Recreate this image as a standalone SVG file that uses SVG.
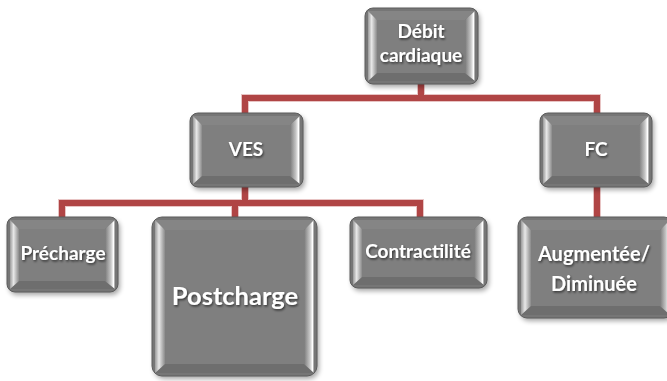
<svg xmlns="http://www.w3.org/2000/svg" width="667" height="381" viewBox="0 0 667 381">
<defs>
<style>
.face{fill:#7f7f7f;}
.outer{fill:#767676;stroke:#5c5c5c;stroke-width:1;}
.bl{fill:url(#gl);}
.br{fill:url(#gr);}
.bt{fill:#858585;}
.bb{fill:#6e6e6e;}
.t{font-family:Lato,"Open Sans","Liberation Sans",sans-serif;font-weight:bold;fill:#ffffff;text-anchor:middle;filter:url(#ts);}
.wire{fill:none;stroke:#b04545;stroke-width:6;stroke-linejoin:miter;}
.wire2{fill:none;stroke:#e8c4c4;stroke-width:8;stroke-linejoin:miter;}
.sh{fill:#000;opacity:0.35;filter:url(#bs);}
</style>
<linearGradient id="gl" x1="0" y1="0" x2="1" y2="0">
<stop offset="0" stop-color="#9a9a9a"/>
<stop offset="0.4" stop-color="#e8e8e8"/>
<stop offset="1" stop-color="#8a8a8a"/>
</linearGradient>
<linearGradient id="gr" x1="0" y1="0" x2="1" y2="0">
<stop offset="0" stop-color="#7a7a7a"/>
<stop offset="0.6" stop-color="#c8c8c8"/>
<stop offset="0.85" stop-color="#ffffff"/>
<stop offset="1" stop-color="#8a8a8a"/>
</linearGradient>
<filter id="bs" x="-20%" y="-20%" width="140%" height="140%"><feGaussianBlur stdDeviation="2.5"/></filter>
<filter id="ts" x="-20%" y="-40%" width="140%" height="180%"><feDropShadow dx="1" dy="1.5" stdDeviation="1" flood-color="#000" flood-opacity="0.6"/></filter>
</defs>

<g id="connectors">
<path class="wire2" d="M421 84V98M245 113V98H597V113M245 187V203M62 217V203H420V217M235 203V217M597 187V217"/>
<path class="wire" d="M421 84V98M245 113V98H597V113M245 187V203M62 217V203H420V217M235 203V217M597 187V217"/>
</g>

<g id="n-debit">
<rect class="sh" x="367" y="11" width="113" height="76" rx="8"/>
<rect class="outer" x="365" y="8" width="113" height="76" rx="8"/>
<polygon class="bt" points="368,11 475,11 465,20 377,20"/>
<polygon class="bb" points="368,81 475,81 465,73 377,73"/>
<polygon class="bl" points="368,11 377,20 377,73 368,81"/>
<polygon class="br" points="475,11 465,20 465,73 475,81"/>
<rect class="face" x="377" y="20" width="88" height="53"/>
<text class="t" x="421" y="38" font-size="19">Débit</text>
<text class="t" x="421" y="62" font-size="19">cardiaque</text>
</g>

<g id="n-ves">
<rect class="sh" x="192" y="116" width="113" height="74" rx="8"/>
<rect class="outer" x="190" y="113" width="113" height="74" rx="8"/>
<polygon class="bt" points="193,116 300,116 290,125 202,125"/>
<polygon class="bb" points="193,184 300,184 290,176 202,176"/>
<polygon class="bl" points="193,116 202,125 202,176 193,184"/>
<polygon class="br" points="300,116 290,125 290,176 300,184"/>
<rect class="face" x="202" y="125" width="88" height="51"/>
<text class="t" x="246" y="156" font-size="19">VES</text>
</g>

<g id="n-fc">
<rect class="sh" x="542" y="116" width="112" height="74" rx="8"/>
<rect class="outer" x="540" y="113" width="112" height="74" rx="8"/>
<polygon class="bt" points="543,116 649,116 639,125 552,125"/>
<polygon class="bb" points="543,184 649,184 639,176 552,176"/>
<polygon class="bl" points="543,116 552,125 552,176 543,184"/>
<polygon class="br" points="649,116 639,125 639,176 649,184"/>
<rect class="face" x="552" y="125" width="87" height="51"/>
<text class="t" x="596" y="156" font-size="19">FC</text>
</g>

<g id="n-precharge">
<rect class="sh" x="9" y="220" width="111" height="75" rx="8"/>
<rect class="outer" x="7" y="217" width="111" height="75" rx="8"/>
<polygon class="bt" points="10,220 115,220 105,229 19,229"/>
<polygon class="bb" points="10,289 115,289 105,281 19,281"/>
<polygon class="bl" points="10,220 19,229 19,281 10,289"/>
<polygon class="br" points="115,220 105,229 105,281 115,289"/>
<rect class="face" x="19" y="229" width="86" height="52"/>
<text class="t" x="63" y="260" font-size="19">Précharge</text>
</g>

<g id="n-postcharge">
<rect class="sh" x="154" y="220" width="165" height="159" rx="10"/>
<rect class="outer" x="152" y="217" width="165" height="159" rx="10"/>
<polygon class="bt" points="155,220 314,220 304,230 165,230"/>
<polygon class="bb" points="155,373 314,373 304,364 165,364"/>
<polygon class="bl" points="155,220 165,230 165,364 155,373"/>
<polygon class="br" points="314,220 304,230 304,364 314,373"/>
<rect class="face" x="165" y="230" width="139" height="134"/>
<text class="t" x="235" y="305" font-size="25.5">Postcharge</text>
</g>

<g id="n-contractilite">
<rect class="sh" x="352" y="220" width="137" height="71" rx="8"/>
<rect class="outer" x="350" y="217" width="137" height="71" rx="8"/>
<polygon class="bt" points="353,220 484,220 474,229 362,229"/>
<polygon class="bb" points="353,285 484,285 474,277 362,277"/>
<polygon class="bl" points="353,220 362,229 362,277 353,285"/>
<polygon class="br" points="484,220 474,229 474,277 484,285"/>
<rect class="face" x="362" y="229" width="112" height="48"/>
<text class="t" x="418" y="258" font-size="19">Contractilité</text>
</g>

<g id="n-augmentee">
<rect class="sh" x="520" y="220" width="155" height="101" rx="9"/>
<rect class="outer" x="518" y="217" width="155" height="101" rx="9"/>
<polygon class="bt" points="521,220 670,220 660,230 531,230"/>
<polygon class="bb" points="521,315 670,315 660,306 531,306"/>
<polygon class="bl" points="521,220 531,230 531,306 521,315"/>
<polygon class="br" points="670,220 660,230 660,306 670,315"/>
<rect class="face" x="531" y="230" width="129" height="76"/>
<text class="t" x="594" y="261" font-size="20">Augmentée/</text>
<text class="t" x="594" y="291" font-size="20">Diminuée</text>
</g>
</svg>
